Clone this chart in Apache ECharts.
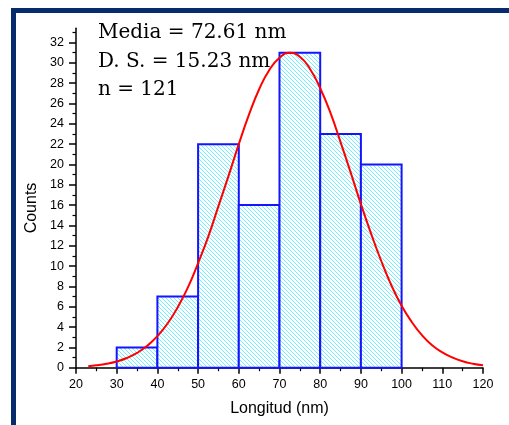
<!DOCTYPE html>
<html>
<head>
<meta charset="utf-8">
<script src="https://cdn.jsdelivr.net/npm/echarts@6/dist/echarts.min.js"></script>
<style>
  html, body { margin: 0; padding: 0; background: #fff; }
  #chart { width: 509px; height: 425px; }
</style>
</head>
<body>
<div id="chart"></div>
<script>
// histogram bins (nm) and counts
let binStart = [30, 40, 50, 60, 70, 80, 90]
let binEnd = [40, 50, 60, 70, 80, 90, 100]
let counts = [2, 7, 22, 16, 31, 23, 20]

// fitted curve
let fitX = [23, 25, 27.5, 30, 32.5, 35, 37.5, 40, 42.5, 45, 47.5, 50, 52.5, 55, 57.5, 60, 62.5, 65, 67.5, 70,
  72.5, 75, 77.5, 80, 82.5, 85, 87.5, 90, 92.5, 95, 97.5, 100, 102.5, 105, 107.5, 110, 112.5, 115, 117.5, 120]
let fitY = [0.15, 0.23, 0.38, 0.61, 0.95, 1.45, 2.15, 3.1, 4.35, 5.95, 7.9, 10.3, 12.9, 15.9, 18.9, 22.0, 24.9, 27.4, 29.3, 30.5,
  31.0, 30.6, 29.4, 27.5, 25.1, 22.2, 19.2, 16.1, 13.2, 10.5, 8.1, 6.1, 4.5, 3.2, 2.2, 1.5, 1.0, 0.63, 0.39, 0.24]

let yTicks = [0, 2, 4, 6, 8, 10, 12, 14, 16, 18, 20, 22, 24, 26, 28, 30, 32]
let yMinor = [1, 3, 5, 7, 9, 11, 13, 15, 17, 19, 21, 23, 25, 27, 29, 31, 33]

let notes = ['Media = 72.61 nm', 'D. S. = 15.23 nm', 'n = 121']

function hatch() {
  let n = 4
  let c = document.createElement('canvas')
  c.width = n
  c.height = n
  let ctx = c.getContext('2d')
  ctx.fillStyle = '#ffffff'
  ctx.fillRect(0, 0, n, n)
  ctx.strokeStyle = '#6eeeff'
  ctx.lineWidth = 1
  ctx.beginPath()
  ctx.moveTo(-1, -1); ctx.lineTo(n + 1, n + 1)
  ctx.moveTo(-1, n - 1); ctx.lineTo(1, n + 1)
  ctx.moveTo(n - 1, -1); ctx.lineTo(n + 1, 1)
  ctx.stroke()
  return c
}

let chart = echarts.init(document.getElementById('chart'))
let pattern = { image: hatch(), repeat: 'repeat' }

let option = {
  animation: false,
  grid: { left: 76, right: 26, top: 28.3, bottom: 57.3 },
  xAxis: {
    type: 'value',
    min: 20,
    max: 120,
    interval: 10,
    name: 'Longitud (nm)',
    nameLocation: 'middle',
    nameGap: 33,
    nameTextStyle: { fontFamily: 'Liberation Sans', fontSize: 16, color: '#000' },
    axisLine: { lineStyle: { color: '#000', width: 1.5 } },
    axisTick: { length: 6, lineStyle: { color: '#000', width: 1.5 } },
    minorTick: { show: true, splitNumber: 2, length: 3.5, lineStyle: { color: '#000', width: 1.2 } },
    axisLabel: { margin: 10, fontFamily: 'Liberation Sans', fontSize: 12.5, color: '#000' },
    splitLine: { show: false }
  },
  yAxis: [
    {
      type: 'value',
      min: 0,
      max: 33.4,
      interval: 2,
      name: 'Counts',
      nameLocation: 'middle',
      nameGap: 32,
      nameTextStyle: { fontFamily: 'Liberation Sans', fontSize: 16, color: '#000', padding: [0, 20, 0, 0] },
      axisLine: { show: true, lineStyle: { color: '#000', width: 1.5 } },
      axisTick: { show: true, length: 7, customValues: yTicks, lineStyle: { color: '#000', width: 1.5 } },
      axisLabel: { margin: 12, customValues: yTicks, fontFamily: 'Liberation Sans', fontSize: 12.5, color: '#000' },
      splitLine: { show: false }
    },
    {
      type: 'value',
      min: 0,
      max: 33.4,
      position: 'left',
      axisLine: { show: false },
      axisTick: { show: true, length: 3.5, customValues: yMinor, lineStyle: { color: '#000', width: 1.2 } },
      axisLabel: { show: false },
      splitLine: { show: false }
    }
  ],
  graphic: [
    { type: 'rect', shape: { x: 11, y: 8, width: 498, height: 5 }, style: { fill: '#072c6b' } },
    { type: 'rect', shape: { x: 11, y: 8, width: 5, height: 417 }, style: { fill: '#072c6b' } },
    ...notes.map((t, i) => ({
      type: 'text',
      left: 98,
      top: 23 + i * 28.5,
      style: { text: t, fontFamily: 'DejaVu Serif', fontSize: 20, fill: '#000' }
    }))
  ],
  series: [
    {
      type: 'custom',
      data: counts.map((c, i) => [binStart[i], binEnd[i], c]),
      renderItem: (params, api) => {
        let p0 = api.coord([api.value(0), api.value(2)])
        let p1 = api.coord([api.value(1), 0])
        return {
          type: 'rect',
          shape: { x: p0[0], y: p0[1], width: p1[0] - p0[0], height: p1[1] - p0[1] },
          style: { fill: pattern, stroke: '#1414ff', lineWidth: 2 }
        }
      },
      z: 1
    },
    {
      type: 'line',
      data: fitX.map((x, i) => [x, fitY[i]]),
      smooth: true,
      showSymbol: false,
      lineStyle: { color: '#ff0000', width: 2 },
      z: 3
    }
  ]
}
chart.setOption(option)
</script>
</body>
</html>
